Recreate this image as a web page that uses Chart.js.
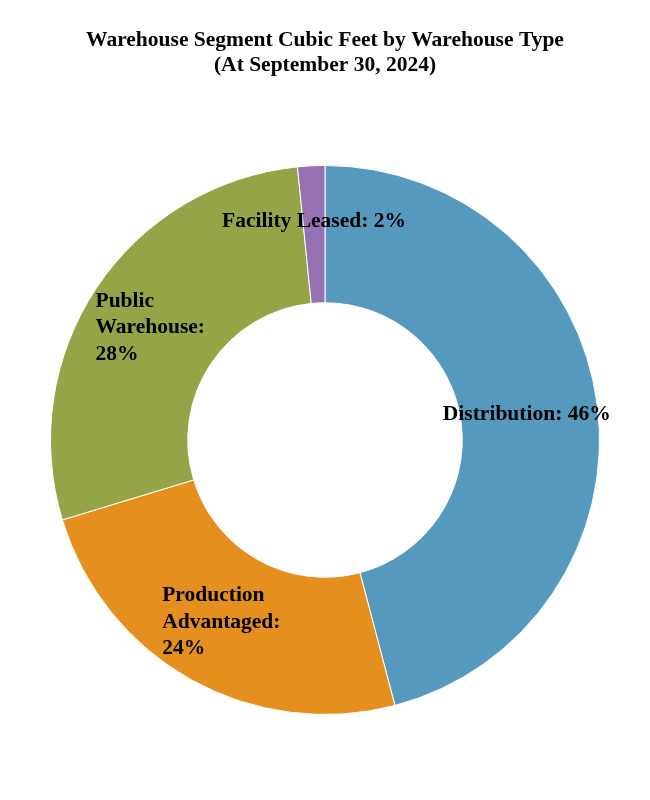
<!DOCTYPE html>
<html>
<head>
<meta charset="utf-8">
<script src="https://cdn.jsdelivr.net/npm/chart.js@4"></script>
<style>
  html, body { margin: 0; padding: 0; background: #ffffff; }
  #wrap { width: 650px; height: 800px; }
</style>
</head>
<body>
<div id="wrap"><canvas id="c" width="650" height="800"></canvas></div>
<script>
const titleLines = ["Warehouse Segment Cubic Feet by Warehouse Type", "(At September 30, 2024)"];
const categories = ["Distribution", "Production Advantaged", "Public Warehouse", "Facility Leased"];
const values = [45.9, 24.4, 28.1, 1.6];
const labelPercents = ["46%", "24%", "28%", "2%"];
const colors = ["#5699BE", "#E5901E", "#95A447", "#9672B5"];

// label layout: lines, offset from center as fraction of outer radius, alignment
const labelLines = [
  ["Distribution: " + labelPercents[0]],
  ["Production", "Advantaged:", labelPercents[1]],
  ["Public", "Warehouse:", labelPercents[2]],
  ["Facility Leased: " + labelPercents[3]]
];
const labelPlace = [
  { dx: 0.735, dy: -0.092, align: "center" },
  { dx: -0.593, dy: 0.567, align: "left" },
  { dx: -0.836, dy: -0.506, align: "left" },
  { dx: -0.04, dy: -0.797, align: "center" }
];

const FONT = "bold 21.5px 'Liberation Serif', 'Times New Roman', serif";

const titlePlugin = {
  id: "customTitle",
  afterDraw(chart) {
    const ctx = chart.ctx;
    ctx.save();
    ctx.fillStyle = "#000";
    ctx.font = FONT;
    ctx.textAlign = "center";
    ctx.textBaseline = "middle";
    titleLines.forEach((t, i) => ctx.fillText(t, 325, 40 + i * 25));
    ctx.restore();
  }
};

const labelPlugin = {
  id: "sliceLabels",
  afterDatasetsDraw(chart) {
    const meta = chart.getDatasetMeta(0);
    const ctx = chart.ctx;
    ctx.save();
    ctx.fillStyle = "#000";
    ctx.font = FONT;
    ctx.textBaseline = "middle";
    meta.data.forEach((arc, i) => {
      const R = arc.outerRadius;
      const p = labelPlace[i];
      const x = arc.x + p.dx * R;
      const y = arc.y + p.dy * R;
      ctx.textAlign = p.align;
      labelLines[i].forEach((line, j) => ctx.fillText(line, x, y + j * 26.5));
    });
    ctx.restore();
  }
};

new Chart(document.getElementById("c"), {
  type: "doughnut",
  data: {
    labels: categories,
    datasets: [{
      data: values,
      backgroundColor: colors,
      borderColor: "#ffffff",
      borderWidth: 1
    }]
  },
  options: {
    responsive: false,
    animation: false,
    cutout: "50%",
    layout: { padding: { top: 165, bottom: 85, left: 0, right: 0 } },
    plugins: {
      legend: { display: false },
      title: { display: false },
      tooltip: { enabled: false }
    }
  },
  plugins: [titlePlugin, labelPlugin]
});
</script>
</body>
</html>
